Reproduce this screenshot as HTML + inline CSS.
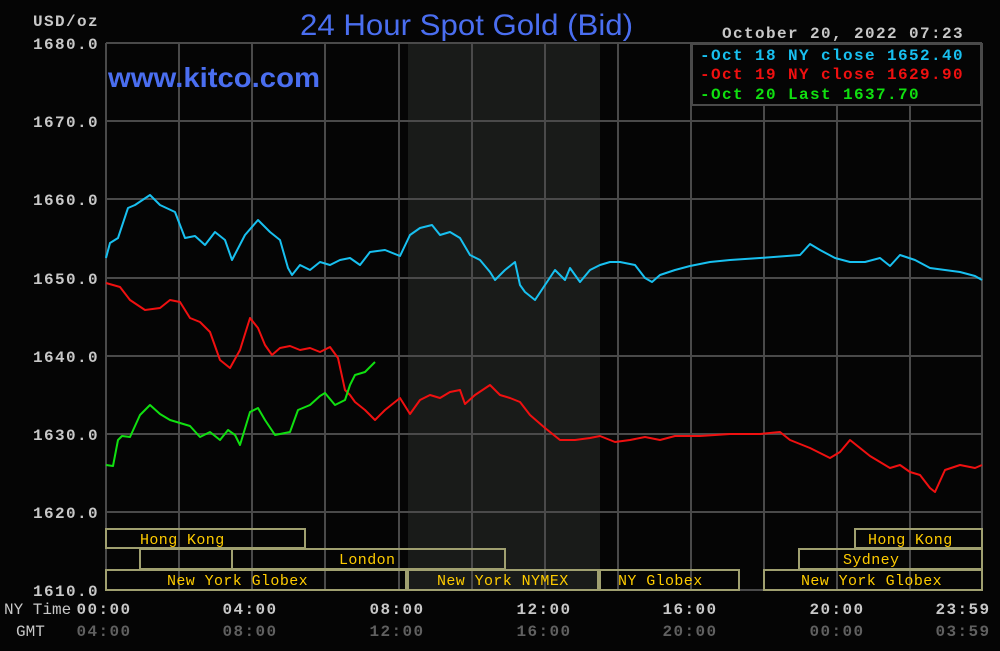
<!DOCTYPE html>
<html><head><meta charset="utf-8"><style>
html,body{margin:0;padding:0;background:#050505;}
svg{display:block}
.m{font-family:"Liberation Mono",monospace;font-weight:bold;font-size:16px;letter-spacing:1.4px}
.s{font-family:"Liberation Mono",monospace;font-size:15px;fill:#ffcc00;letter-spacing:0.4px}
</style></head><body>
<svg width="1000" height="651" viewBox="0 0 1000 651">
<rect x="0" y="0" width="1000" height="651" fill="#050505"/>
<rect x="408" y="43" width="192" height="547" fill="#191b19"/>
<g stroke="#4a4a4a" stroke-width="2">
<line x1="106" y1="43" x2="982" y2="43"/>
<line x1="106" y1="121" x2="982" y2="121"/>
<line x1="106" y1="199" x2="982" y2="199"/>
<line x1="106" y1="278" x2="982" y2="278"/>
<line x1="106" y1="356" x2="982" y2="356"/>
<line x1="106" y1="434" x2="982" y2="434"/>
<line x1="106" y1="512" x2="982" y2="512"/>
<line x1="106" y1="590" x2="982" y2="590"/>
<line x1="106" y1="43" x2="106" y2="590"/>
<line x1="179" y1="43" x2="179" y2="590"/>
<line x1="252" y1="43" x2="252" y2="590"/>
<line x1="325" y1="43" x2="325" y2="590"/>
<line x1="399" y1="43" x2="399" y2="590"/>
<line x1="472" y1="43" x2="472" y2="590"/>
<line x1="545" y1="43" x2="545" y2="590"/>
<line x1="618" y1="43" x2="618" y2="590"/>
<line x1="691" y1="43" x2="691" y2="590"/>
<line x1="764" y1="43" x2="764" y2="590"/>
<line x1="837" y1="43" x2="837" y2="590"/>
<line x1="910" y1="43" x2="910" y2="590"/>
<line x1="982" y1="43" x2="982" y2="590"/>
</g>
<rect x="692" y="44" width="289" height="61" fill="#050505" stroke="#4a4a4a" stroke-width="2"/>
<text x="108" y="87" font-family="Liberation Sans,sans-serif" font-weight="bold" font-size="28" fill="#4a6ef0" textLength="212" lengthAdjust="spacingAndGlyphs">www.kitco.com</text>
<text x="300" y="35" font-family="Liberation Sans,sans-serif" font-size="30" fill="#4a6ef0" textLength="333" lengthAdjust="spacingAndGlyphs">24 Hour Spot Gold (Bid)</text>
<text x="722" y="38" class="m" fill="#c8c8c8">October 20, 2022 07:23</text>
<text x="700" y="60" class="m" fill="#18c0f0">-Oct 18 NY close 1652.40</text>
<text x="700" y="79" class="m" fill="#f01010">-Oct 19 NY close 1629.90</text>
<text x="700" y="99" class="m" fill="#10e010">-Oct 20 Last 1637.70</text>
<g class="m" fill="#c8c8c8" text-anchor="end">
<text x="99" y="26" text-anchor="end">USD/oz</text>
<text x="99" y="49">1680.0</text>
<text x="99" y="127">1670.0</text>
<text x="99" y="205">1660.0</text>
<text x="99" y="284">1650.0</text>
<text x="99" y="362">1640.0</text>
<text x="99" y="440">1630.0</text>
<text x="99" y="518">1620.0</text>
<text x="99" y="596">1610.0</text>
</g>
<g class="m" fill="#c8c8c8" text-anchor="middle">
<text x="104" y="614">00:00</text><text x="250" y="614">04:00</text><text x="397" y="614">08:00</text>
<text x="544" y="614">12:00</text><text x="690" y="614">16:00</text><text x="837" y="614">20:00</text><text x="963" y="614">23:59</text>
</g>
<g class="m" fill="#606060" text-anchor="middle">
<text x="104" y="636">04:00</text><text x="250" y="636">08:00</text><text x="397" y="636">12:00</text>
<text x="544" y="636">16:00</text><text x="690" y="636">20:00</text><text x="837" y="636">00:00</text><text x="963" y="636">03:59</text>
</g>
<text x="4" y="614" font-family="Liberation Mono,monospace" font-size="16" fill="#c8c8c8">NY Time</text>
<text x="16" y="636" font-family="Liberation Mono,monospace" font-size="16" fill="#c8c8c8">GMT</text>
<g fill="none" stroke="#a0a070" stroke-width="2">
<rect x="106" y="529" width="199" height="19"/>
<rect x="855" y="529" width="127" height="19"/>
<rect x="140" y="549" width="92" height="20"/>
<rect x="232" y="549" width="273" height="20"/>
<rect x="799" y="549" width="183" height="20"/>
<rect x="106" y="570" width="300" height="20"/>
<rect x="408" y="570" width="190" height="20"/>
<rect x="600" y="570" width="139" height="20"/>
<rect x="764" y="570" width="218" height="20"/>
</g>
<text x="140" y="544" class="s">Hong Kong</text>
<text x="868" y="544" class="s">Hong Kong</text>
<text x="339" y="564" class="s">London</text>
<text x="843" y="564" class="s">Sydney</text>
<text x="167" y="585" class="s">New York Globex</text>
<text x="437" y="585" class="s">New York NYMEX</text>
<text x="618" y="585" class="s">NY Globex</text>
<text x="801" y="585" class="s">New York Globex</text>
<g fill="none" stroke-width="2" stroke-linejoin="round">
<polyline stroke="#18c0f0" points="106,258 110,243 118,238 128,208 135,205 150,195 160,205 175,212 185,238 195,236 205,245 215,232 225,240 232,260 245,235 258,220 270,232 280,240 288,268 292,275 300,265 310,270 320,262 330,265 340,260 350,258 360,265 370,252 385,250 400,256 410,235 420,228 432,225 440,235 450,232 460,238 470,255 480,260 490,272 495,280 505,270 515,262 520,285 525,292 535,300 545,285 555,270 565,280 570,268 580,282 590,270 600,265 610,262 620,262 635,265 645,278 652,282 660,275 675,270 690,266 710,262 730,260 760,258 800,255 810,244 820,250 835,258 850,262 865,262 880,258 890,266 900,255 915,260 930,268 945,270 960,272 975,276 982,280"/>
<polyline stroke="#f01010" points="106,283 120,287 130,300 145,310 160,308 170,300 180,302 190,318 200,322 210,332 220,360 230,368 240,350 250,318 258,328 265,345 272,355 280,348 290,346 300,350 310,348 320,352 330,347 338,358 345,390 350,395 355,402 365,410 375,420 385,410 395,402 400,398 410,414 420,400 430,395 440,398 450,392 460,390 465,404 475,395 490,385 500,395 510,398 520,402 530,415 545,428 560,440 575,440 590,438 600,436 615,442 630,440 645,437 660,440 675,436 700,436 730,434 760,434 780,432 790,440 810,448 830,458 840,452 850,440 860,448 870,456 880,462 890,468 900,465 910,472 920,475 930,488 935,492 945,470 960,465 975,468 982,465"/>
<polyline stroke="#10e010" points="106,465 113,466 118,440 122,436 130,437 140,415 150,405 160,414 170,420 180,423 190,426 200,437 210,432 220,440 228,430 235,435 240,445 250,412 258,408 265,420 275,435 290,432 298,410 310,405 320,396 325,393 335,405 345,400 350,385 355,375 365,372 375,362"/>
</g>
</svg>
</body></html>
